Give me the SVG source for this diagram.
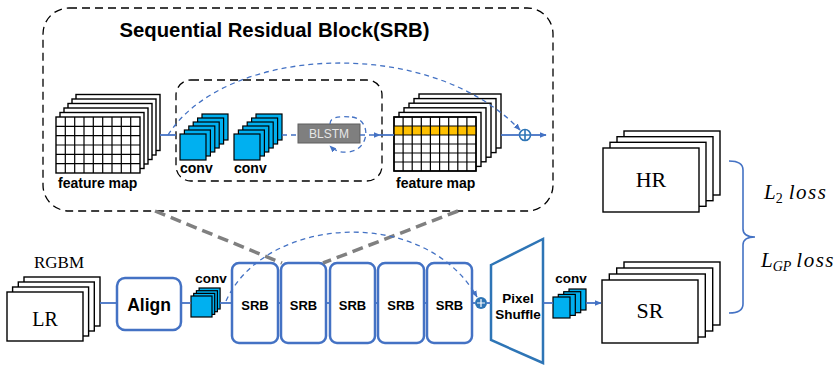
<svg xmlns="http://www.w3.org/2000/svg" width="839" height="365" viewBox="0 0 839 365">
<style>
.sheet{fill:#fff;stroke:#000;stroke-width:1.4}
.grid{fill:none;stroke:#000;stroke-width:1.2}
.cv{fill:#00B0F0;stroke:#000;stroke-width:1.2}
.blk{fill:#fff;stroke:#4472C4;stroke-width:2.5}
.ln{fill:none;stroke:#4472C4;stroke-width:1.8}
.dl{fill:none;stroke:#4472C4;stroke-width:1.3;stroke-dasharray:5 4}
.gd{fill:none;stroke:#808080;stroke-width:3.5;stroke-dasharray:11 6}
.bd{fill:none;stroke:#000;stroke-width:1.3;stroke-dasharray:8 5}
.sb{font-family:"Liberation Sans",Arial,sans-serif;font-weight:bold;fill:#000}
.sf{font-family:"Liberation Serif","Times New Roman",serif;fill:#000}
.mi{font-family:"Liberation Serif","Times New Roman",serif;font-style:italic;fill:#000}
</style>
<defs>
<marker id="ah" viewBox="0 0 10 10" refX="9" refY="5" markerWidth="7" markerHeight="7" orient="auto" markerUnits="userSpaceOnUse">
<path d="M0,1 L10,5 L0,9 z" fill="#4472C4"/>
</marker>
</defs>

<!-- SRB detail box -->
<g id="srb-detail">
<rect x="43" y="8" width="510" height="203" rx="26" class="bd"/>
<text x="274.5" y="37" class="sb" font-size="20.3" text-anchor="middle">Sequential Residual Block(SRB)</text>
</g>

<g id="fm-left">
<rect class="sheet" x="76" y="94.5" width="84" height="56"/>
<rect class="sheet" x="72" y="99" width="84" height="56"/>
<rect class="sheet" x="68" y="103.5" width="84" height="56"/>
<rect class="sheet" x="64" y="108" width="84" height="56"/>
<rect class="sheet" x="60" y="112.5" width="84" height="56"/>
<rect class="sheet" x="56" y="117" width="84" height="56"/>
<path class="grid" d="M65.3,117V173M74.7,117V173M84,117V173M93.3,117V173M102.7,117V173M112,117V173M121.3,117V173M130.7,117V173M56,126.3H140M56,135.7H140M56,145H140M56,154.3H140M56,163.7H140"/>
<text x="58" y="188" class="sb" font-size="14">feature map</text>
</g>

<g id="inner-box">
<rect x="176" y="80" width="206" height="101" rx="15" class="bd"/>
</g>

<g id="conv1">
<rect class="cv" x="202" y="114" width="26" height="26"/>
<rect class="cv" x="197.6" y="118" width="26" height="26"/>
<rect class="cv" x="193.2" y="122" width="26" height="26"/>
<rect class="cv" x="188.8" y="126" width="26" height="26"/>
<rect class="cv" x="184.4" y="130" width="26" height="26"/>
<rect class="cv" x="180" y="134" width="26" height="26"/>
<text x="180" y="173" class="sb" font-size="14">conv</text>
</g>

<g id="conv2">
<rect class="cv" x="256" y="114" width="26" height="26"/>
<rect class="cv" x="251.6" y="118" width="26" height="26"/>
<rect class="cv" x="247.2" y="122" width="26" height="26"/>
<rect class="cv" x="242.8" y="126" width="26" height="26"/>
<rect class="cv" x="238.4" y="130" width="26" height="26"/>
<rect class="cv" x="234" y="134" width="26" height="26"/>
<text x="234" y="173" class="sb" font-size="14">conv</text>
</g>

<g id="blstm">
<rect x="298" y="124" width="62" height="19" fill="#7F7F7F" stroke="#5f5f5f" stroke-width="1"/>
<text x="329" y="138" font-family="Liberation Sans,Arial,sans-serif" font-size="12" fill="#E6E6E6" text-anchor="middle">BLSTM</text>
</g>

<g id="fm-right">
<rect class="sheet" x="419" y="94" width="82" height="54"/>
<rect class="sheet" x="414" y="98.6" width="82" height="54"/>
<rect class="sheet" x="409" y="103.2" width="82" height="54"/>
<rect class="sheet" x="404" y="107.8" width="82" height="54"/>
<rect class="sheet" x="399" y="112.4" width="82" height="54"/>
<rect class="sheet" x="394" y="117" width="82" height="54"/>
<rect x="394" y="126" width="82" height="9" fill="#FFC000"/>
<path class="grid" d="M403.1,117V171M412.2,117V171M421.3,117V171M430.4,117V171M439.6,117V171M448.7,117V171M457.8,117V171M466.9,117V171M394,126H476M394,135H476M394,144H476M394,153H476M394,162H476"/>
<rect x="394" y="117" width="82" height="54" fill="none" stroke="#000" stroke-width="1.4"/>
<text x="396" y="188" class="sb" font-size="14">feature map</text>
</g>

<g id="plus-top">
<circle cx="525" cy="135" r="5.5" fill="#fff" stroke="#2E75B6" stroke-width="1.6"/>
<path d="M519.5,135H530.5M525,129.5V140.5" stroke="#2E75B6" stroke-width="1.6"/>
</g>

<!-- bottom pipeline -->
<g id="lr">
<rect class="sheet" x="24" y="277" width="76" height="49"/>
<rect class="sheet" x="18.3" y="282" width="76" height="49"/>
<rect class="sheet" x="12.6" y="287" width="76" height="49"/>
<rect class="sheet" x="7" y="292" width="76" height="49"/>
<text x="45" y="326" class="sf" font-size="20" text-anchor="middle">LR</text>
<text x="59" y="268" class="sf" font-size="17" text-anchor="middle">RGBM</text>
</g>

<g id="align">
<rect class="blk" x="117" y="278" width="64" height="52" rx="8"/>
<text x="149" y="311" class="sb" font-size="17.5" text-anchor="middle">Align</text>
</g>

<g id="conv-a">
<rect class="cv" x="199.1" y="288" width="21" height="21"/>
<rect class="cv" x="196.4" y="290.7" width="21" height="21"/>
<rect class="cv" x="193.7" y="293.4" width="21" height="21"/>
<rect class="cv" x="191" y="296" width="21" height="21"/>
<text x="211" y="283" class="sb" font-size="13.5" text-anchor="middle">conv</text>
</g>

<g id="srb1"><rect class="blk" x="232" y="263" width="46" height="80" rx="7"/><text x="255" y="310" class="sb" font-size="13" text-anchor="middle">SRB</text></g>
<g id="srb2"><rect class="blk" x="281" y="263" width="45" height="80" rx="7"/><text x="303.5" y="310" class="sb" font-size="13" text-anchor="middle">SRB</text></g>
<g id="srb3"><rect class="blk" x="330" y="263" width="45" height="80" rx="7"/><text x="352.5" y="310" class="sb" font-size="13" text-anchor="middle">SRB</text></g>
<g id="srb4"><rect class="blk" x="378" y="263" width="46" height="80" rx="7"/><text x="401" y="310" class="sb" font-size="13" text-anchor="middle">SRB</text></g>
<g id="srb5"><rect class="blk" x="427" y="263" width="45" height="80" rx="7"/><text x="449.5" y="310" class="sb" font-size="13" text-anchor="middle">SRB</text></g>

<g id="plus-bottom">
<circle cx="481" cy="303" r="6" fill="#2E75B6"/>
<path d="M477,303H485M481,299V307" stroke="#fff" stroke-width="1.2"/>
</g>

<g id="pixel-shuffle">
<path d="M491,265 L543,239 L543,363 L491,340 Z" fill="#fff" stroke="#2E75B6" stroke-width="2.5"/>
<text x="518" y="303" class="sb" font-size="13.5" text-anchor="middle">Pixel</text>
<text x="518" y="319" class="sb" font-size="13.5" text-anchor="middle">Shuffle</text>
</g>

<g id="conv-b">
<rect class="cv" x="569" y="289" width="17" height="21"/>
<rect class="cv" x="563.7" y="291.7" width="17" height="21"/>
<rect class="cv" x="558.3" y="294.4" width="17" height="21"/>
<rect class="cv" x="553" y="297" width="17" height="21"/>
<text x="571" y="283" class="sb" font-size="13.5" text-anchor="middle">conv</text>
</g>

<g id="hr">
<rect class="sheet" x="624" y="131" width="96" height="64"/>
<rect class="sheet" x="617" y="136.7" width="96" height="64"/>
<rect class="sheet" x="610" y="142.3" width="96" height="64"/>
<rect class="sheet" x="603" y="148" width="96" height="64"/>
<text x="651" y="187" class="sf" font-size="22" text-anchor="middle">HR</text>
</g>

<g id="sr">
<rect class="sheet" x="624" y="262" width="96" height="63"/>
<rect class="sheet" x="616.7" y="268" width="96" height="63"/>
<rect class="sheet" x="609.3" y="274" width="96" height="63"/>
<rect class="sheet" x="602" y="280" width="96" height="63"/>
<text x="650" y="318" class="sf" font-size="22" text-anchor="middle">SR</text>
</g>

<g id="loss">
<path d="M729,161 Q743,161 743,170 L743,229 Q743,237 755,237 Q743,237 743,245 L743,304 Q743,313 729,313" fill="none" stroke="#4472C4" stroke-width="1.6"/>
<text x="764" y="199" class="mi" font-size="21">L<tspan font-style="normal" font-size="14" dy="4">2</tspan><tspan dy="-4" dx="6" letter-spacing="1.5">loss</tspan></text>
<text x="761" y="267" class="mi" font-size="21">L<tspan font-size="14" dy="4">GP</tspan><tspan dy="-4" dx="5" letter-spacing="1.5">loss</tspan></text>
</g>

<g id="connectors">
<!-- zoom lines -->
<path class="gd" d="M155,211 L282,263"/>
<path class="gd" d="M458,211 L323,263"/>
<!-- top -->
<path class="ln" d="M160,135 H176"/>
<path class="dl" d="M282,135 H298"/>
<path class="dl" d="M360,135 H380" marker-end="url(#ah)"/>
<path class="ln" d="M380,135 H394"/>
<path class="ln" d="M501,135 H519.5"/>
<path class="ln" d="M530.5,135 H546" marker-end="url(#ah)"/>
<path class="dl" d="M168,135 C225,45 430,35 520,130" marker-end="url(#ah)"/>
<path class="dl" d="M352,117 C372,120 370,150 348,152 C340,153 334,150 330,146" marker-end="url(#ah)"/>
<path class="dl" d="M330,124 C330,117 338,116 352,117"/>
<!-- bottom -->
<path class="ln" d="M100,303 H117"/>
<path class="ln" d="M181,303 H191"/>
<path class="ln" d="M220,303 H232"/>
<path class="ln" d="M278,303 H281"/>
<path class="ln" d="M326,303 H330"/>
<path class="ln" d="M375,303 H378"/>
<path class="ln" d="M424,303 H427"/>
<path class="ln" d="M472,303 H475"/>
<path class="ln" d="M487,303 H491"/>
<path class="ln" d="M543,303 H553"/>
<path class="ln" d="M586,303 H601" marker-end="url(#ah)"/>
<path class="dl" d="M226,301 C265,215 425,205 477,297" marker-end="url(#ah)"/>
</g>
</svg>
